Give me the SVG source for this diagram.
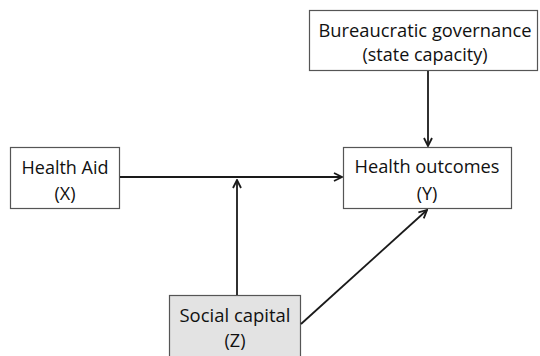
<svg xmlns="http://www.w3.org/2000/svg" width="540" height="356" viewBox="0 0 540 356">
<style>
.box{fill:#fff;stroke:#555;stroke-width:1.2}
.gray{fill:#e3e3e3}
text{font-family:"Open Sans","Liberation Sans",sans-serif;font-size:18px;fill:#111;text-anchor:middle}
.edge{stroke:#1a1a1a;stroke-width:1.8;fill:none}
</style>
<defs>
<marker id="arr" viewBox="0 0 10 10" refX="9" refY="5" markerWidth="10" markerHeight="10" markerUnits="userSpaceOnUse" orient="auto">
<path d="M1,1 L9,5 L1,9" fill="none" stroke="#1a1a1a" stroke-width="1.8"/>
</marker>
</defs>
<rect width="540" height="356" fill="#fff"/>
<g id="bureaucratic">
<rect class="box" x="309.5" y="10.5" width="228" height="60"/>
<text x="425" y="37" textLength="213" lengthAdjust="spacingAndGlyphs">Bureaucratic governance</text>
<text x="425" y="61">(state capacity)</text>
</g>
<g id="healthaid">
<rect class="box" x="10.5" y="147.5" width="109" height="61"/>
<text x="65" y="174">Health Aid</text>
<text x="65" y="200">(X)</text>
</g>
<g id="outcomes">
<rect class="box" x="343.5" y="147.5" width="168" height="61"/>
<text x="427" y="173" textLength="145" lengthAdjust="spacingAndGlyphs">Health outcomes</text>
<text x="427" y="200">(Y)</text>
</g>
<g id="social">
<rect class="box gray" x="169.5" y="295.5" width="131" height="65"/>
<text x="235" y="322" textLength="111" lengthAdjust="spacingAndGlyphs">Social capital</text>
<text x="235" y="347">(Z)</text>
</g>
<g id="connectors">
<line class="edge" x1="120" y1="177" x2="342" y2="177" marker-end="url(#arr)"/>
<line class="edge" x1="428" y1="71" x2="428" y2="146" marker-end="url(#arr)"/>
<line class="edge" x1="237" y1="295" x2="237" y2="180" marker-end="url(#arr)"/>
<line class="edge" x1="301" y1="324" x2="427" y2="210" marker-end="url(#arr)"/>
</g>
</svg>
